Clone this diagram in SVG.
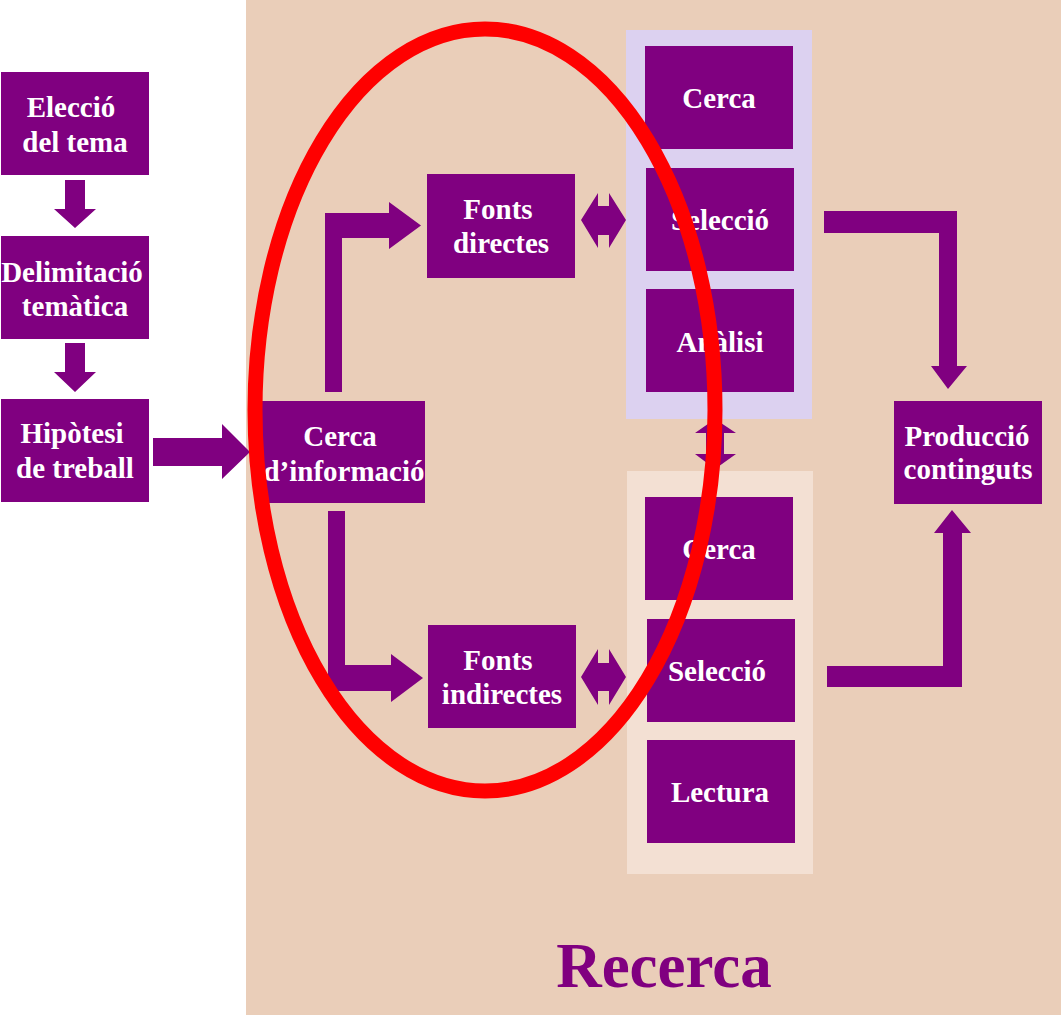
<svg xmlns="http://www.w3.org/2000/svg" width="1061" height="1015" viewBox="0 0 1061 1015">
<style>
.box{fill:#800080}
.t{font-family:"Liberation Serif","Times New Roman",serif;font-weight:bold;font-size:29px;fill:#ffffff;text-anchor:middle}
.arr{fill:#800080}
.title{font-family:"Liberation Serif","Times New Roman",serif;font-weight:bold;font-size:63px;fill:#800080;text-anchor:middle}
</style>
<rect x="0" y="0" width="1061" height="1015" fill="#ffffff"/>
<g id="recerca-area">
<rect x="246" y="0" width="815" height="1015" fill="#EACEB9"/>
<rect x="626" y="30" width="186" height="389" fill="#DCD1F0"/>
<rect x="627" y="471" width="186" height="403" fill="#F3E0D3"/>
<text class="title" x="664" y="987">Recerca</text>
</g>
<g id="eleccio"><rect class="box" x="1" y="72" width="148" height="103"/><text class="t" x="71" y="117">Elecció</text><text class="t" x="75" y="152">del tema</text></g>
<g id="delimitacio"><rect class="box" x="1" y="236" width="148" height="103"/><text class="t" x="72" y="282">Delimitació</text><text class="t" x="75" y="316">temàtica</text></g>
<g id="hipotesi"><rect class="box" x="1" y="399" width="148" height="103"/><text class="t" x="72" y="443">Hipòtesi</text><text class="t" x="75" y="478">de treball</text></g>
<g id="cerca-informacio"><rect class="box" x="262" y="401" width="163" height="102"/><text class="t" x="340" y="446">Cerca</text><text class="t" x="344" y="481">d’informació</text></g>
<g id="fonts-directes"><rect class="box" x="427" y="174" width="148" height="104"/><text class="t" x="498" y="219">Fonts</text><text class="t" x="501" y="253">directes</text></g>
<g id="fonts-indirectes"><rect class="box" x="428" y="625" width="148" height="103"/><text class="t" x="498" y="670">Fonts</text><text class="t" x="502" y="704">indirectes</text></g>
<g id="cerca-1"><rect class="box" x="645" y="46" width="148" height="103"/><text class="t" x="719" y="108">Cerca</text></g>
<g id="seleccio-1"><rect class="box" x="646" y="168" width="148" height="103"/><text class="t" x="720" y="230">Selecció</text></g>
<g id="analisi"><rect class="box" x="646" y="289" width="148" height="103"/><text class="t" x="720" y="352">Anàlisi</text></g>
<g id="cerca-2"><rect class="box" x="645" y="497" width="148" height="103"/><text class="t" x="719" y="559">Cerca</text></g>
<g id="seleccio-2"><rect class="box" x="647" y="619" width="148" height="103"/><text class="t" x="717" y="681">Selecció</text></g>
<g id="lectura"><rect class="box" x="647" y="740" width="148" height="103"/><text class="t" x="720" y="802">Lectura</text></g>
<g id="produccio"><rect class="box" x="894" y="401" width="148" height="103"/><text class="t" x="967" y="446">Producció</text><text class="t" x="968" y="479">continguts</text></g>
<g id="connectors">
<polygon class="arr" points="65,180 85,180 85,209 96,209 75,228 54,209 65,209"/>
<polygon class="arr" points="65,343 85,343 85,372 96,372 75,392 54,372 65,372"/>
<polygon class="arr" points="153,438 222,438 222,424 250,452 222,479 222,466 153,466"/>
<polygon class="arr" points="325,392 325,213 389,213 389,202 421,225.5 389,249 389,238 342,238 342,392"/>
<polygon class="arr" points="328,511 345,511 345,665 391,665 391,654 423,678 391,702 391,691 328,691"/>
<polygon class="arr" points="581,220 598,193 598,206 609,206 609,193 626,220 609,248 609,235 598,235 598,248"/>
<polygon class="arr" points="581,677 598,649 598,663 609,663 609,649 626,677 609,705 609,691 598,691 598,705"/>
<polygon class="arr" points="715,419 736,433 724,433 724,454 736,454 715,469 695,454 706,454 706,433 695,433"/>
<polygon class="arr" points="824,211 957,211 957,366 967,366 948,389 931,366 939,366 939,233 824,233"/>
<polygon class="arr" points="827,666 943,666 943,533 934,533 952,510 971,533 962,533 962,687 827,687"/>
</g>
<g id="highlight">
<ellipse cx="485" cy="410" rx="230" ry="381" fill="none" stroke="#FF0000" stroke-width="15"/>
</g>
</svg>
